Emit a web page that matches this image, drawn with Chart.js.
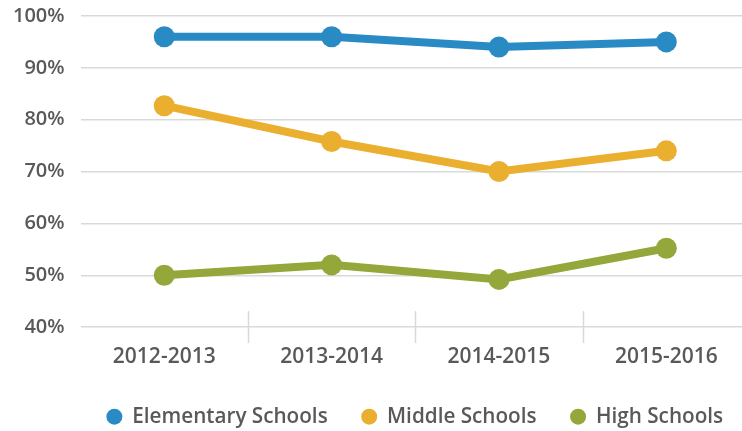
<!DOCTYPE html>
<html>
<head>
<meta charset="utf-8">
<script src="https://cdn.jsdelivr.net/npm/chart.js@4/dist/chart.umd.min.js"></script>
<style>
html,body{margin:0;padding:0;background:#fff;overflow:hidden;width:742px;height:431px;}
#wrap{position:relative;width:833px;height:431px;}
</style>
</head>
<body>
<div id="wrap"><canvas id="c" width="833" height="431"></canvas></div>
<script>
const categories = ["2012-2013", "2013-2014", "2014-2015", "2015-2016"];
const elementary = [96, 96, 94, 95];
const middle = [82.7, 75.8, 70, 74];
const high = [50, 52, 49.2, 55.2];
const seriesNames = ["Elementary Schools", "Middle Schools", "High Schools"];
const yTicks = [40, 50, 60, 70, 80, 90, 100];

const colors = ["#2a8bc4", "#ebaf2f", "#93a73a"];
const textColor = "#595959";
const gridColor = "#d9d9d9";
const fontFamily = "'Open Sans', 'Noto Sans', sans-serif";

const boundaryTicks = {
  id: 'boundaryTicks',
  afterDraw(chart) {
    const xs = chart.scales.x;
    const area = chart.chartArea;
    const ctx = chart.ctx;
    ctx.save();
    ctx.strokeStyle = gridColor;
    ctx.lineWidth = 1.5;
    for (let i = 0; i < categories.length - 1; i++) {
      const px = (xs.getPixelForValue(i) + xs.getPixelForValue(i + 1)) / 2;
      ctx.beginPath();
      ctx.moveTo(Math.round(px) + 0.5, area.bottom - 16);
      ctx.lineTo(Math.round(px) + 0.5, area.bottom + 16);
      ctx.stroke();
    }
    ctx.restore();
  }
};

function ds(label, data, color) {
  return {
    label, data,
    borderColor: color, backgroundColor: color,
    pointBackgroundColor: color, pointBorderColor: color,
    borderWidth: 8, pointRadius: 10.5, pointBorderWidth: 0,
    tension: 0, fill: false
  };
}

new Chart(document.getElementById('c'), {
  type: 'line',
  data: {
    labels: categories,
    datasets: [
      ds(seriesNames[0], elementary, colors[0]),
      ds(seriesNames[1], middle, colors[1]),
      ds(seriesNames[2], high, colors[2])
    ]
  },
  options: {
    responsive: false,
    animation: false,
    devicePixelRatio: 1,
    layout: { padding: { top: 16, left: -3, right: 0, bottom: -6 } },
    plugins: {
      tooltip: { enabled: false },
      legend: {
        position: 'bottom',
        labels: {
          usePointStyle: true,
          pointStyle: 'circle',
          boxWidth: 15,
          boxHeight: 11.3,
          padding: 34,
          color: textColor,
          font: { family: fontFamily, size: 20.7, weight: '600' }
        }
      }
    },
    scales: {
      x: {
        offset: true,
        grid: { display: false, drawTicks: false },
        border: { display: false },
        afterFit(scale) { scale.height -= 14; },
        ticks: {
          color: textColor, padding: 17,
          font: { family: fontFamily, size: 21, weight: '600' }
        }
      },
      y: {
        min: 40, max: 100,
        afterBuildTicks(scale) { scale.ticks = yTicks.map(v => ({ value: v })); },
        afterFit(scale) { scale.paddingTop = 0; scale.paddingBottom = 0; },
        grid: { color: gridColor, lineWidth: 1.5, drawTicks: false },
        border: { display: false },
        ticks: {
          color: textColor, padding: 16,
          callback: v => v + '%',
          font: { family: fontFamily, size: 20, weight: '600' }
        }
      },
      yRight: {
        position: 'right',
        grid: { display: false, drawTicks: false },
        border: { display: false },
        ticks: { display: false },
        afterFit(scale) { scale.width = 83; scale.paddingTop = 0; scale.paddingBottom = 0; }
      }
    }
  },
  plugins: [boundaryTicks]
});
</script>
</body>
</html>
